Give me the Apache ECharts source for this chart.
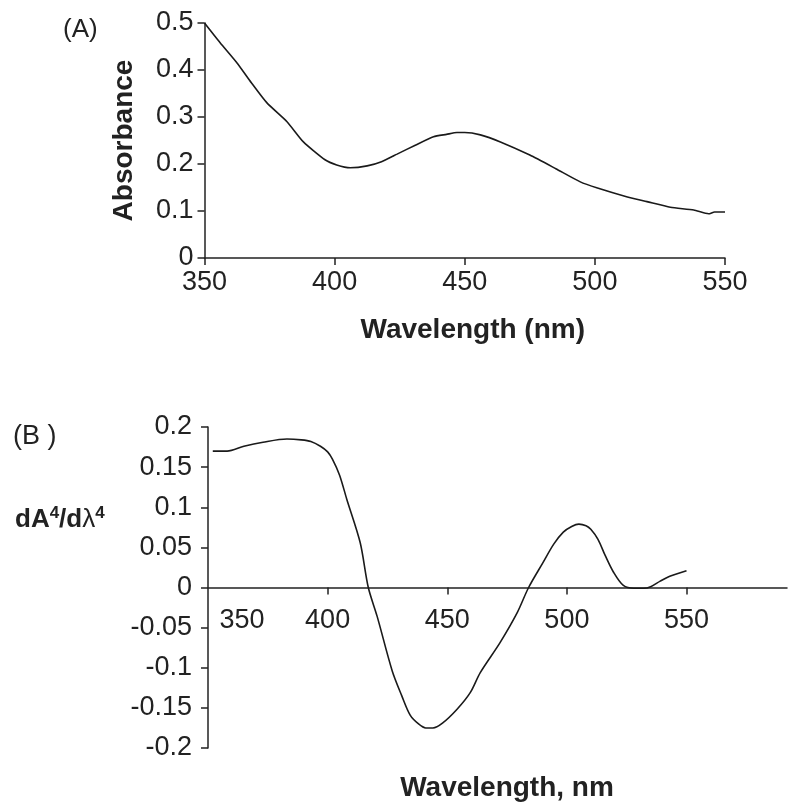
<!DOCTYPE html>
<html>
<head>
<meta charset="utf-8">
<script src="https://cdn.jsdelivr.net/npm/echarts@6/dist/echarts.min.js"></script>
<style>
  html, body { margin: 0; padding: 0; background: #fff; }
  #chart { width: 802px; height: 804px; }
</style>
</head>
<body>
<div id="chart"></div>
<script>
// (A) absorbance spectrum
const wavelengthA = [350, 356, 362.5, 368, 374, 381.7, 388, 396.3, 400.8, 406, 412.5, 418, 424, 431, 438, 443, 447, 450,
  456, 463.7, 475, 485, 494.4, 501, 512.5, 520, 529, 538, 543.7, 546, 550];
const absorbance = [0.5, 0.458, 0.415, 0.373, 0.33, 0.29, 0.247, 0.209, 0.198, 0.192, 0.196, 0.205, 0.221, 0.24, 0.258, 0.263, 0.267, 0.267,
  0.262, 0.247, 0.219, 0.19, 0.162, 0.149, 0.13, 0.12, 0.108, 0.102, 0.094, 0.098, 0.098];

// (B) fourth derivative
const wavelengthB = [352, 358, 365, 373, 383, 389, 393, 397, 400, 402, 405, 408, 413.6, 417, 420.7, 427, 431, 434.5, 438, 441, 444, 448,
  454, 459.6, 463.8, 472, 479.3, 484, 490, 494.5, 498.5, 502, 505, 508, 510, 513, 516, 519.5, 523.6, 528, 532, 535, 539, 543, 550];
const derivB = [0.17, 0.17, 0.176, 0.181, 0.185, 0.184, 0.182, 0.176, 0.169, 0.16, 0.14, 0.11, 0.056, 0, -0.036, -0.104, -0.135, -0.159, -0.17, -0.175, -0.175, -0.169,
  -0.152, -0.131, -0.106, -0.069, -0.031, 0, 0.031, 0.054, 0.069, 0.076, 0.079, 0.077, 0.0725, 0.06, 0.04, 0.019, 0.0025, -0.001, -0.001, 0.001, 0.008, 0.014, 0.021];

const ticksB = [400, 450, 500, 550];
const labelsB = [350, 400, 450, 500, 550];

const font = "'Liberation Sans', Arial, sans-serif";
const ink = "#222";

const chart = echarts.init(document.getElementById("chart"));

const axisTick = { inside: false, length: 7, lineStyle: { color: ink, width: 1.5 } };
const gridB = { left: 208, top: 427, width: 579, height: 321 };

chart.setOption({
  animation: false,
  textStyle: { fontFamily: font, color: ink },
  title: [
    { text: "(A)", left: 58, top: 12, textStyle: { fontFamily: font, fontSize: 26, fontWeight: "normal", color: ink } },
    { text: "(B )", left: 8, top: 418, textStyle: { fontFamily: font, fontSize: 27, fontWeight: "normal", color: ink } },
    {
      text: "{b|dA}{s|4}{b|/d}{l|λ}{s|4}",
      left: 10,
      top: 498,
      textStyle: {
        fontFamily: font,
        rich: {
          b: { fontFamily: font, fontSize: 26, fontWeight: "bold", color: ink, lineHeight: 30, verticalAlign: "bottom" },
          l: { fontFamily: font, fontSize: 26, fontWeight: "normal", color: ink, lineHeight: 30, verticalAlign: "bottom" },
          s: { fontFamily: font, fontSize: 17, fontWeight: "bold", color: ink, lineHeight: 30, verticalAlign: "top", padding: [2, 0, 0, 0] },
        },
      },
    },
  ],
  grid: [
    { left: 204.5, top: 23, width: 520.5, height: 235, outerBoundsMode: "none", containLabel: false },
    { ...gridB, outerBoundsMode: "none", containLabel: false },
  ],
  xAxis: [
    {
      gridIndex: 0, type: "value", min: 350, max: 550, interval: 50,
      axisLine: { lineStyle: { color: ink, width: 1.5 } }, axisTick, splitLine: { show: false },
      axisLabel: { fontSize: 27, margin: 11, color: ink, fontFamily: font },
      name: "Wavelength (nm)", nameLocation: "middle", nameGap: 58,
      nameTextStyle: { fontSize: 28, fontWeight: "bold", color: ink, fontFamily: font, padding: [0, 0, 0, 16] },
    },
    {
      // x axis crosses at y = 0, which sits half way down the grid
      gridIndex: 1, type: "value", min: 350, max: 592, position: "bottom", offset: -gridB.height / 2,
      axisLine: { onZero: false, lineStyle: { color: ink, width: 1.5 } },
      axisTick: { ...axisTick, customValues: ticksB },
      splitLine: { show: false },
      axisLabel: {
        customValues: labelsB, fontSize: 27, margin: 20, color: ink, fontFamily: font,
        formatter: (v) => (v === 350 ? "{f|350}" : String(v)),
        rich: { f: { fontSize: 27, color: ink, fontFamily: font, padding: [0, 0, 0, 68] } },
      },
      name: "Wavelength, nm", nameLocation: "middle", nameGap: 187,
      nameTextStyle: { fontSize: 28, fontWeight: "bold", color: ink, fontFamily: font, padding: [0, 0, 0, 19] },
    },
  ],
  yAxis: [
    {
      gridIndex: 0, type: "value", min: 0, max: 0.5, interval: 0.1,
      axisLine: { show: true, lineStyle: { color: ink, width: 1.5 } },
      axisTick: { show: true, ...axisTick },
      splitLine: { show: false },
      axisLabel: { fontSize: 27, margin: 11, color: ink, fontFamily: font },
      name: "Absorbance", nameLocation: "middle", nameGap: 66,
      nameTextStyle: { fontSize: 28, fontWeight: "bold", color: ink, fontFamily: font },
    },
    {
      gridIndex: 1, type: "value", min: -0.2, max: 0.2, interval: 0.05,
      axisLine: { show: true, onZero: false, lineStyle: { color: ink, width: 1.5 } },
      axisTick: { show: true, ...axisTick },
      splitLine: { show: false },
      axisLabel: { fontSize: 27, margin: 16, color: ink, fontFamily: font },
    },
  ],
  series: [
    {
      type: "line", xAxisIndex: 0, yAxisIndex: 0, showSymbol: false, smooth: 0.2,
      lineStyle: { color: "#1a1a1a", width: 1.6 },
      data: wavelengthA.map((w, i) => [w, absorbance[i]]),
    },
    {
      type: "line", xAxisIndex: 1, yAxisIndex: 1, showSymbol: false, smooth: 0.3,
      lineStyle: { color: "#1a1a1a", width: 1.6 },
      data: wavelengthB.map((w, i) => [w, derivB[i]]),
    },
  ],
});
</script>
</body>
</html>
